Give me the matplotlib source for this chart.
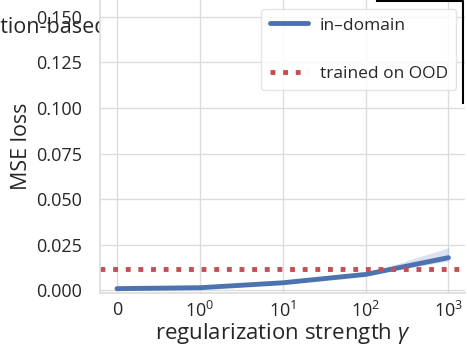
import matplotlib
matplotlib.use('Agg')
import matplotlib.pyplot as plt
from matplotlib.lines import Line2D

plt.rcParams['font.family'] = ['Open Sans', 'DejaVu Sans']
plt.rcParams['mathtext.fontset'] = 'custom'
plt.rcParams['mathtext.rm'] = 'Open Sans'
plt.rcParams['mathtext.it'] = 'Open Sans:italic'

# data
x_labels = ['0', '$10^0$', '$10^1$', '$10^2$', '$10^3$']
in_domain = [0.0008, 0.0013, 0.0040, 0.0086, 0.0178]
in_domain_lo = [0.0006, 0.0011, 0.0037, 0.0082, 0.0160]
in_domain_hi = [0.0010, 0.0016, 0.0044, 0.0091, 0.0232]
ood_level = 0.0118
y_ticks = [0.000, 0.025, 0.050, 0.075, 0.100, 0.125, 0.150]

blue = '#4C72B0'
red = '#C44E52'
grid_c = '#dcdcdc'
text_c = '#262626'

W, H = 467, 345
fig = plt.figure(figsize=(W / 100, H / 100), dpi=100)
fig.patch.set_facecolor('white')

# leftover title of a neighbouring panel, partly hidden by the axes
fig.text(108 / W, 1 - 27 / H, 'Regularization-based', ha='right', va='center',
         fontsize=15.5, color=text_c, zorder=-1)
# edge of a neighbouring frame at the top right
fig.add_artist(Line2D([377 / W, 463 / W, 463 / W], [1 - 0.5 / H, 1 - 0.5 / H, 1 - 103 / H],
                      color='black', lw=1.5))

ax = fig.add_axes([100 / W, 52 / H, 365 / W, 293 / H])
ax.set_facecolor('white')

xs = list(range(len(x_labels)))
ax.fill_between(xs, in_domain_lo, in_domain_hi, color=blue, alpha=0.2, lw=0)
ax.plot(xs, in_domain, color=blue, lw=3.5, label='in\u2013domain', solid_capstyle='round')
ax.axhline(ood_level, color=red, lw=3.5, ls=(0, (1, 1.6)), label='trained on OOD',
           clip_on=False)

ax.set_xlim(-0.205, 4.2)
ax.set_ylim(-0.0016, 0.1593)
ax.set_xticks(xs)
ax.set_xticklabels(x_labels)
ax.set_yticks(y_ticks)
ax.set_yticklabels([f'{v:.3f}' for v in y_ticks])
ax.tick_params(length=0, labelsize=13, colors=text_c)
ax.tick_params(axis='x', pad=6)
ax.tick_params(axis='y', pad=13)
ax.grid(True, color=grid_c, lw=1)
ax.set_axisbelow(True)
for s in ['top', 'right']:
    ax.spines[s].set_visible(False)
for s in ['left', 'bottom']:
    ax.spines[s].set_color(grid_c)
    ax.spines[s].set_linewidth(1.2)

ax.set_xlabel(r'regularization strength $\gamma$', fontsize=16, color=text_c, labelpad=0)
ax.set_ylabel('MSE loss', fontsize=15.4, color=text_c, labelpad=2.5)

leg = ax.legend(loc='upper right', bbox_to_anchor=(1.0, 1.0), fontsize=12.5,
                labelspacing=1.85, handlelength=2.2, handletextpad=0.65, borderpad=0.5,
                framealpha=0.85, edgecolor='#e0e0e0', fancybox=True)
for t in leg.get_texts():
    t.set_color(text_c)

fig.savefig('out.png', dpi=100, facecolor='white')
